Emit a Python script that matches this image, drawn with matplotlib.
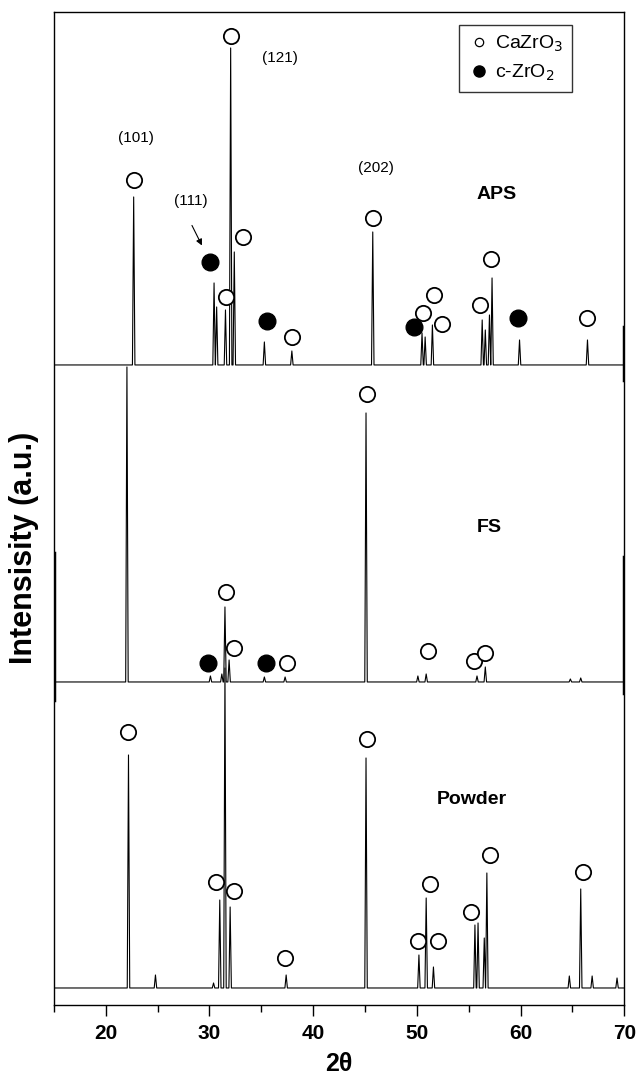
import matplotlib
matplotlib.use("Agg")
import matplotlib.pyplot as plt
from matplotlib.lines import Line2D
from matplotlib.ticker import MultipleLocator

plt.rcParams['font.family'] = ['Liberation Sans', 'DejaVu Sans']

# peak lists: 2theta and height above each baseline
aps_pos = [22.7, 30.45, 30.7, 31.55, 32.05, 32.4, 35.3, 37.95, 45.75, 50.5, 50.8, 51.5,
           56.3, 56.6, 57.0, 57.25, 59.9, 66.45]
aps_int = [168, 82, 58, 55, 317, 113, 23, 14, 133, 32, 28, 40, 45, 35, 50, 87, 25, 25]

fs_pos = [22.05, 30.1, 31.2, 31.5, 31.9, 35.3, 37.3, 45.1, 50.1, 50.9, 55.8, 56.6, 64.8, 65.8]
fs_int = [315, 6, 8, 75, 22, 5, 5, 269, 6, 8, 6, 15, 3, 4]

pw_pos = [22.2, 24.8, 30.4, 31.0, 31.5, 32.0, 37.4, 45.1, 50.2, 50.9, 51.6, 55.6, 55.9,
          56.5, 56.75, 64.7, 65.8, 66.9, 69.3]
pw_int = [233, 13, 5, 88, 320, 81, 13, 230, 33, 90, 21, 63, 65, 50, 115, 12, 99, 12, 10]

# phase markers (2theta, level)
aps_open = [(22.73, 825), (31.6, 708), (32.08, 969), (33.24, 768), (38.0, 668), (45.76, 787),
            (50.6, 692), (51.65, 710), (52.42, 681), (56.07, 700), (57.13, 746), (66.4, 687)]
aps_fill = [(30.06, 743), (35.55, 684), (49.71, 678), (59.74, 687)]
fs_open = [(31.6, 413), (32.4, 357), (37.5, 342), (45.2, 611), (51.07, 354), (55.5, 344), (56.6, 352)]
fs_fill = [(29.86, 342), (35.5, 342)]
pw_open = [(22.13, 273), (30.6, 123), (32.4, 114), (37.3, 47), (45.2, 266), (50.1, 64),
           (51.3, 121), (52.05, 64), (55.2, 93), (57.1, 150), (66.0, 133)]

samples = ["APS", "FS", "Powder"]
baselines = [640, 323, 17]


def trace(pos, inten, base, w=0.12):
    xs, ys = [15], [base]
    for p, h in zip(pos, inten):
        xs += [p - w, p, p + w]
        ys += [base, base + h, base]
    xs.append(70)
    ys.append(base)
    return xs, ys


fig = plt.figure(figsize=(6.36, 10.76), dpi=100)
ax = fig.add_axes([0.0846, 0.066, 0.897, 0.9229])

for (pos, inten), base in zip([(aps_pos, aps_int), (fs_pos, fs_int), (pw_pos, pw_int)], baselines):
    xs, ys = trace(pos, inten, base)
    ax.plot(xs, ys, color="black", lw=0.8)

opn = dict(marker="o", ls="none", ms=11, mfc="white", mec="black", mew=1.3)
fil = dict(marker="o", ls="none", ms=12, mfc="black", mec="black")
for pts in [aps_open, fs_open, pw_open]:
    ax.plot([p[0] for p in pts], [p[1] for p in pts], **opn)
for pts in [aps_fill, fs_fill]:
    ax.plot([p[0] for p in pts], [p[1] for p in pts], **fil)

# reflections
ax.text(22.93, 867, "(101)", ha="center", va="center", fontsize=11)
ax.text(28.2, 804, "(111)", ha="center", va="center", fontsize=11)
ax.text(36.8, 947, "(121)", ha="center", va="center", fontsize=11)
ax.text(46.1, 837, "(202)", ha="center", va="center", fontsize=11)
ax.annotate("", xy=(29.4, 757), xytext=(28.2, 782),
            arrowprops=dict(arrowstyle="-|>", color="black", lw=0.8, mutation_scale=9))

for name, xy in zip(samples, [(57.7, 810), (57.0, 477), (55.3, 205)]):
    ax.text(xy[0], xy[1], name, ha="center", va="center", fontsize=14, fontweight="bold")

handles = [Line2D([], [], marker="o", ls="none", ms=6, mfc="white", mec="black", mew=0.9),
           Line2D([], [], marker="o", ls="none", ms=8, mfc="black", mec="black")]
leg = ax.legend(handles, ["CaZrO$_3$", "c-ZrO$_2$"], loc="upper right",
                bbox_to_anchor=(0.908, 0.987), borderaxespad=0, fancybox=False,
                edgecolor="black", fontsize=14, handletextpad=0.2, handlelength=1.2,
                labelspacing=0.45, borderpad=0.45)
leg.get_frame().set_linewidth(1.0)

# darker patches on the frame, as in the scanned original
ax.axvline(15, ymin=0.307, ymax=0.455, color="black", lw=2.5)
ax.axvline(70, ymin=0.629, ymax=0.683, color="black", lw=2.5)
ax.axvline(70, ymin=0.314, ymax=0.451, color="black", lw=2.5)

ax.set_xlim(15, 70)
ax.set_ylim(0, 993)
ax.xaxis.set_major_locator(MultipleLocator(10))
ax.xaxis.set_minor_locator(MultipleLocator(5))
ax.tick_params(axis="x", which="major", direction="out", length=8, width=1, labelsize=15, pad=6)
ax.tick_params(axis="x", which="minor", direction="out", length=5, width=1)
ax.set_yticks([])
for lbl in ax.get_xticklabels():
    lbl.set_fontweight("bold")
for s in ax.spines.values():
    s.set_linewidth(1.0)

ax.set_xlabel("2θ", fontsize=18, fontweight="bold", labelpad=6)
ax.set_ylabel("Intensisity (a.u.)", fontsize=22, fontweight="bold")
ax.yaxis.set_label_coords(-0.026, 0.46)

fig.savefig("out.png", dpi=100)
